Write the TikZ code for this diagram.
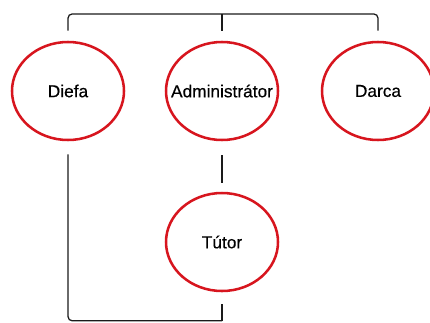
\documentclass[tikz,border=0pt]{standalone}
\usepackage{fontspec}
\setmainfont{Liberation Sans}
\usepackage{tikz}
\usetikzlibrary{positioning,shapes.geometric,calc}
\definecolor{red1}{HTML}{D7151E}
\definecolor{ink1}{HTML}{1A1A1A}

\begin{document}
\begin{tikzpicture}[
    role/.style={ellipse, draw=red1, line width=1.8pt,
                 minimum width=2.8cm, minimum height=2.45cm,
                 inner xsep=-10pt, inner ysep=0pt,
                 font=\fontsize{12.3}{14}\selectfont\addfontfeature{FakeBold=0.4}},
    link/.style={draw=ink1, line width=0.9pt, rounded corners=3pt},
]
\useasboundingbox (0,0) rectangle (10.75,-8.05);

\node[role] (diefa) at (1.70,-2.275) {Diefa};
\node[role] (admin) at (5.55,-2.275) {Administrátor};
\node[role] (darca) at (9.45,-2.275) {Darca};
\node[role] (tutor) at (5.55,-6.05) {Tútor};

\coordinate (base) at (0,-8.02);

% top bracket
\draw[link] ([yshift=0.25cm]diefa.north) -- ++(0,0.42) -| ([yshift=0.25cm]darca.north);
\draw[link] ([yshift=0.25cm]admin.north) -- ++(0,0.42);
% admin to tutor
\draw[link] ([yshift=-0.35cm]admin.south) -- ([yshift=0.22cm]tutor.north);
% bottom line
\draw[link] ([yshift=-0.33cm]diefa.south) |- (tutor |- base);
\draw[link] ([yshift=-0.3cm]tutor.south) -- (tutor |- base);
\end{tikzpicture}
\end{document}
